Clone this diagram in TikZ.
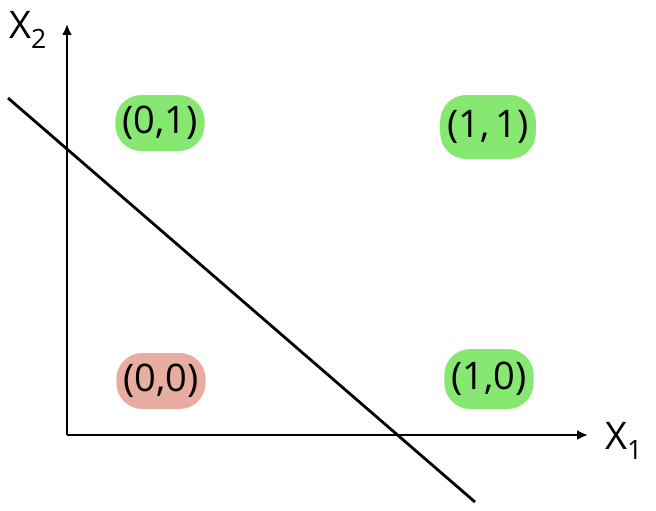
\documentclass[tikz,border=0pt]{standalone}
\usepackage{fontspec}
\setmainfont{Open Sans}
\usetikzlibrary{arrows.meta}
\definecolor{okgreen}{RGB}{134,232,112}
\definecolor{badpink}{RGB}{232,172,160}
\tikzset{
  pen/.style={line width=2.8pt, black},
  axis/.style={pen, -{Latex[length=11pt,width=10pt]}},
  blob/.style={rounded corners=26pt, inner xsep=7pt, inner ysep=7pt, minimum height=56pt, font=\fontsize{38}{40}\selectfont},
  good/.style={blob, fill=okgreen},
  bad/.style={blob, fill=badpink},
  axlabel/.style={font=\fontsize{38}{40}\selectfont}
}
\begin{document}
\begin{tikzpicture}[x=1pt,y=-1pt]
\useasboundingbox (0,0) rectangle (656,511);
\fill[white] (0,0) rectangle (656,511);
\coordinate (O) at (67,435);
\coordinate (Ytop) at (67,24);
\coordinate (Xend) at (588,435);
\coordinate (L1) at (8,98);
\coordinate (L2) at (475,502);
\draw[axis] (O) -- (Ytop);
\draw[axis] (O) -- (Xend);
\draw[pen] (L1) -- (L2);
\node[axlabel] (x2) at (28,30) {X\textsubscript{2}};
\node[axlabel] (x1) at (624,441) {X\textsubscript{1}};
\node[good] (p01) at (160,123) {(0,1)};
\node[good, minimum height=64pt] (p11) at (488,127) {(1,\,1)};
\node[bad] (p00) at (161,381) {(0,0)};
\node[good, minimum height=60pt] (p10) at (489,379) {(1,0)};
\end{tikzpicture}
\end{document}
